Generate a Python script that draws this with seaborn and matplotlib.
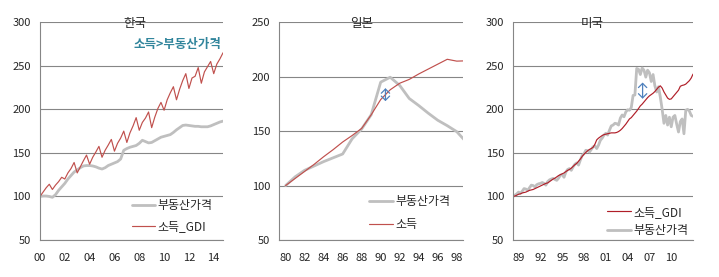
import matplotlib
matplotlib.use("Agg")
import matplotlib.pyplot as plt
import numpy as np
import pandas as pd
import seaborn as sns

# ---------------- data ----------------
# Korea, quarterly 2000Q1-2014Q4 (2000Q1 = 100)
kr_income = [100, 105, 110, 114,
             108, 113, 117, 122,
             120, 127, 132, 139,
             127, 134, 141, 147.5,
             137, 145, 151, 157.5,
             145, 153, 159, 165.5,
             152, 161, 167, 175,
             162, 173, 181, 190.5,
             176, 185, 190, 197,
             179, 191, 201, 208,
             199, 211, 219, 226,
             211, 223, 233, 241,
             224, 236, 238, 248,
             230, 243, 249, 255,
             241, 252, 258, 265]
kr_house = [100, 100.5, 100.5, 100, 99, 102, 107, 111, 115, 120,
            124, 128, 130.5, 133, 135, 135.5, 135.5, 135, 134, 132.5,
            131.5, 133, 135.5, 137, 138.5, 140, 143, 153, 155, 156.5,
            157.5, 158.5, 161, 164.5, 163, 161.5, 162, 164, 166, 168,
            169, 170, 171, 173.5, 176.5, 179, 181.5, 182, 181.5, 181,
            180.5, 180.5, 180, 180, 180, 181, 182.5, 184, 185.5, 186.5]
kr_tick_labels = ["00", "02", "04", "06", "08", "10", "12", "14"]

# Japan, annual 1980-1999 (1980 = 100)
jp_years = list(range(1980, 2000))
jp_house = [100, 108, 114, 118, 122, 125.5, 129, 143, 152, 165,
            195, 199.5, 192, 180, 173.5, 166.5, 160, 155, 149.5, 140]
jp_income = [100, 106.5, 113, 119.5, 126.5, 133, 140, 146, 152.5, 165,
             179, 188, 194, 197.5, 202.5, 207, 211.5, 216, 214.3, 214.6]
jp_tick_labels = ["80", "82", "84", "86", "88", "90", "92", "94", "96", "98"]

# US, quarterly 1988Q2-2013Q1
us_income = [100, 100.5, 101.5, 102.5, 103, 104, 104.5, 105, 106, 107,
             107.5, 108, 109, 110, 111, 112, 113, 114, 115, 115.5,
             117, 118.5, 120, 121, 122.5, 124, 125, 126, 127, 128.5,
             130, 131, 132.5, 134.5, 136.5, 138, 140.5, 143, 146, 148.5,
             150.5, 152.5, 154, 155, 156.5, 160, 165, 167, 168.5, 170,
             171, 171.5, 172, 172.5, 173, 173, 173, 173.5, 174.5, 176,
             178, 180.5, 183, 186, 189, 190.5, 193, 195.5, 198, 201,
             204, 206, 208.5, 211, 213.5, 215.5, 217, 218.5, 220.5, 223,
             225.5, 227, 224.5, 220, 216.5, 213, 211.5, 212, 214.5, 217,
             219.5, 222, 226.5, 227.5, 228, 229, 231, 233, 236, 240.5]
us_house = [100, 101.5, 103, 105, 103.5, 106, 109, 108.5, 107, 110,
            113, 112.5, 111, 113.5, 114.5, 115, 116, 115, 113, 117,
            119, 120, 120.7, 119.5, 118.5, 121, 124.5, 125, 122, 128,
            131, 132, 130, 134, 137, 138.5, 136, 142, 147, 149,
            153, 152.5, 151, 154, 157, 158, 155, 159, 164.5, 167,
            170.5, 172.5, 170.5, 176, 181, 182, 184, 183.5, 182, 190,
            193.5, 191.5, 197, 199.5, 199, 202, 216, 216.5, 247, 246,
            240, 247.5, 245, 237, 245, 242, 232, 240, 227, 220,
            226, 214, 200, 184, 193, 182, 191, 180, 191, 193,
            183, 174, 186, 189, 172, 199, 200, 198, 193, 192]
us_tick_years = [1989, 1992, 1995, 1998, 2001, 2004, 2007, 2010]
us_tick_labels = ["89", "92", "95", "98", "01", "04", "07", "10"]

# ---------------- frames ----------------
kr_q = pd.period_range("2000Q1", periods=len(kr_income), freq="Q")
kr_df = pd.DataFrame({"pos": np.arange(len(kr_q)), "income": kr_income, "house": kr_house})
jp_df = pd.DataFrame({"year": jp_years, "income": jp_income, "house": jp_house})
us_q = pd.period_range("1988Q2", periods=len(us_income), freq="Q")
us_df = pd.DataFrame({"t": us_q.year + (us_q.quarter - 1) / 4.0,
                      "income": us_income, "house": us_house})

# ---------------- style ----------------
sns.set_style("white")
plt.rcParams["font.family"] = ["Noto Sans CJK KR", "DejaVu Sans"]
plt.rcParams["axes.unicode_minus"] = False

GRID = "#868686"
GRAY = "#BFBFBF"
RED = "#C0504D"
RED_US = "#B01E28"
ARROW = "#4F81BD"
TEAL = "#31859C"

fig = plt.figure(figsize=(7.19, 2.77), dpi=100)
ax_kr = fig.add_axes([0.0556, 0.1336, 0.2546, 0.786])
ax_jp = fig.add_axes([0.3885, 0.1336, 0.2559, 0.786])
ax_us = fig.add_axes([0.7139, 0.1336, 0.2503, 0.786])


def style_axes(ax, ymax):
    ax.set_ylim(50, ymax)
    ax.set_yticks(np.arange(50, ymax + 1, 50))
    ax.grid(axis="y", color=GRID, lw=0.8)
    ax.grid(axis="x", visible=False)
    ax.set_axisbelow(True)
    for s in ["top", "right"]:
        ax.spines[s].set_visible(False)
    for s in ["left", "bottom"]:
        ax.spines[s].set_color(GRID)
        ax.spines[s].set_linewidth(0.8)
    ax.tick_params(axis="y", length=2.5, width=0.8, color=GRID, pad=4, labelsize=8)
    ax.tick_params(axis="x", length=2.5, width=0.8, color=GRID, pad=7, labelsize=8)
    ax.set_xlabel("")
    ax.set_ylabel("")


ARROWSTYLE = "<->,head_length=0.3,head_width=0.3"
LEG_FS = 8.6

# Korea
sns.lineplot(data=kr_df, x="pos", y="house", ax=ax_kr, color=GRAY, lw=2.0, label="부동산가격")
sns.lineplot(data=kr_df, x="pos", y="income", ax=ax_kr, color=RED, lw=0.85, label="소득_GDI")
ax_kr.set_xlim(0, len(kr_df) - 1)
ax_kr.set_xticks(np.arange(0, len(kr_df), 8))
ax_kr.set_xticklabels(kr_tick_labels)
style_axes(ax_kr, 300)
ax_kr.text(0.519, 0.995, "한국", transform=ax_kr.transAxes, ha="center", va="center", fontsize=9)
ax_kr.text(0.993, 0.896, "소득>부동산가격", transform=ax_kr.transAxes, ha="right", va="center",
           fontsize=9, fontweight="bold", color=TEAL)
ax_kr.legend(loc="center left", bbox_to_anchor=(0.50, 0.11), frameon=False, fontsize=LEG_FS,
             handlelength=2.0, handletextpad=0.2, labelspacing=0.65, borderpad=0, borderaxespad=0)

# Japan
sns.lineplot(data=jp_df, x="year", y="house", ax=ax_jp, color=GRAY, lw=2.0, label="부동산가격")
sns.lineplot(data=jp_df, x="year", y="income", ax=ax_jp, color=RED, lw=0.85, label="소득")
ax_jp.set_xlim(1979.34, 1998.69)
ax_jp.set_xticks(jp_years[::2])
ax_jp.set_xticklabels(jp_tick_labels)
style_axes(ax_jp, 250)
ax_jp.text(0.448, 0.995, "일본", transform=ax_jp.transAxes, ha="center", va="center", fontsize=9)
ax_jp.annotate("", xy=(1990.5, 175), xytext=(1990.5, 192),
               arrowprops=dict(arrowstyle=ARROWSTYLE, color=ARROW, lw=0.9))
ax_jp.legend(loc="center left", bbox_to_anchor=(0.49, 0.124), frameon=False, fontsize=LEG_FS,
             handlelength=2.0, handletextpad=0.2, labelspacing=0.8, borderpad=0, borderaxespad=0)

# US
sns.lineplot(data=us_df, x="t", y="house", ax=ax_us, color=GRAY, lw=2.0, label="부동산가격")
sns.lineplot(data=us_df, x="t", y="income", ax=ax_us, color=RED_US, lw=0.85, label="소득_GDI")
ax_us.set_xlim(1988.27, 2013.03)
ax_us.set_xticks(us_tick_years)
ax_us.set_xticklabels(us_tick_labels)
style_axes(ax_us, 300)
ax_us.text(0.441, 0.995, "미국", transform=ax_us.transAxes, ha="center", va="center", fontsize=9)
ax_us.annotate("", xy=(2006.06, 209), xytext=(2006.06, 234),
               arrowprops=dict(arrowstyle=ARROWSTYLE, color=ARROW, lw=0.9))
h, l = ax_us.get_legend_handles_labels()
ax_us.legend(h[::-1], l[::-1], loc="center left", bbox_to_anchor=(0.52, 0.086), frameon=False,
             fontsize=LEG_FS, handlelength=2.0, handletextpad=0.2, labelspacing=0.45, borderpad=0,
             borderaxespad=0)

fig.savefig("out.png", dpi=100)
